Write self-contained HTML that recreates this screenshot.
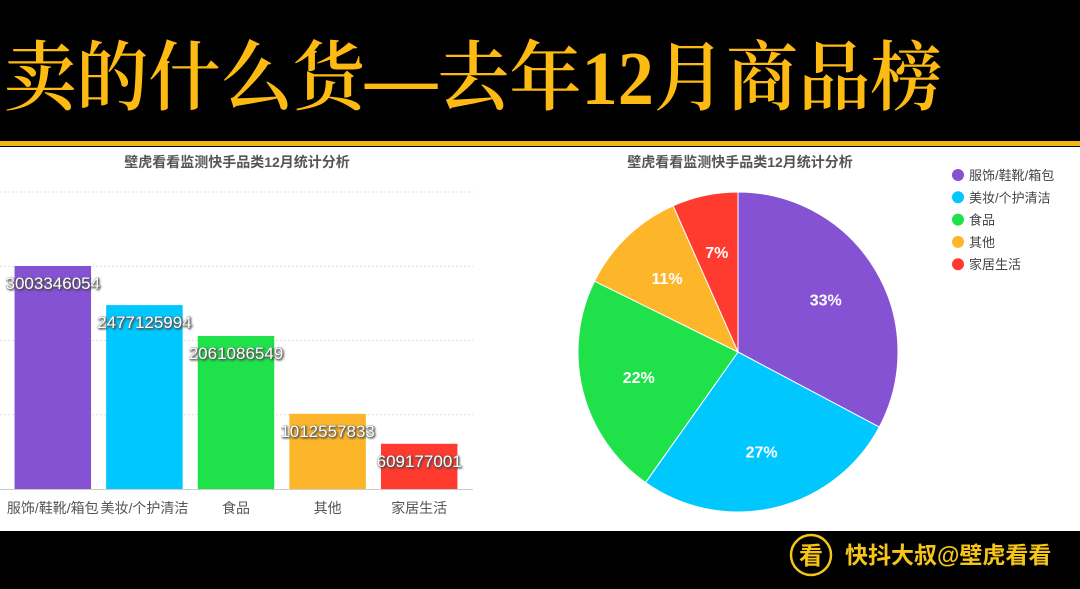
<!DOCTYPE html>
<html><head><meta charset="utf-8">
<style>
body{margin:0;width:1080px;height:584px;background:#000;overflow:hidden;font-family:"Liberation Sans","Noto Sans CJK SC",sans-serif;}
#hdr{position:absolute;left:0;top:0;width:1080px;height:141px;background:#000;}
#title{position:absolute;left:4px;top:29px;font-family:"Liberation Serif","Noto Serif CJK SC",serif;font-size:76px;line-height:100px;color:#FDBA12;white-space:nowrap;font-weight:600;transform:scaleX(0.95);transform-origin:left;}
#bar{position:absolute;left:0;top:141px;width:1080px;height:5px;background:#F5B614;}
#main{position:absolute;left:0;top:147px;width:1080px;height:384px;background:#fff;}
#foot{position:absolute;left:0;top:531px;width:1080px;height:53px;background:#000;}
svg text{font-family:"Liberation Sans","Noto Sans CJK SC",sans-serif;}
</style></head><body>
<div id="hdr"><div id="title">卖的什么货—去年12月商品榜</div></div>
<div id="bar"></div>
<div id="main"></div>
<div id="foot">
<svg width="1080" height="53">
<circle cx="811" cy="24" r="20" fill="none" stroke="#F5C518" stroke-width="2.5"/>
<text x="811" y="33" text-anchor="middle" font-size="24" font-weight="bold" fill="#F5C518">看</text>
<text x="845" y="32" font-size="23" font-weight="bold" fill="#F5C518">快抖大叔@壁虎看看</text>
</svg></div>
<svg id="chart" width="1080" height="584" style="position:absolute;left:0;top:0"></svg>
<script>
const categories=["服饰/鞋靴/箱包","美妆/个护清洁","食品","其他","家居生活"];
const values=[3003346054,2477125994,2061086549,1012557833,609177001];
const colors=["#8452D3","#00C8FF","#1FE24A","#FDB52A","#FF3B30"];
const yTicks=[0,1e9,2e9,3e9,4e9];
const chartTitle="壁虎看看监测快手品类12月统计分析";
const NS="http://www.w3.org/2000/svg";
const svg=document.getElementById('chart');
function mk(t,a,txt){const e=document.createElementNS(NS,t);for(const k in a)e.setAttribute(k,a[k]);if(txt!==undefined)e.textContent=txt;svg.appendChild(e);return e;}
const y0=489,yTop=192,yMax=4e9;
const y=v=>y0-(v/yMax)*(y0-yTop);
const xStart=7,step=91.6,bw=76.5;
const xc=i=>xStart+step*(i+0.5);
let t=mk('text',{x:237,y:167,'text-anchor':'middle','font-size':14,'font-weight':'bold',fill:'#555'},chartTitle);

yTicks.slice(1).forEach(v=>{const g=mk('line',{x1:0,x2:473,y1:y(v),y2:y(v),stroke:'#ddd','stroke-dasharray':'2,2'});
});
const ax=mk('line',{x1:0,x2:473,y1:y0+0.5,y2:y0+0.5,stroke:'#ccc'});

values.forEach((v,i)=>{
 const r=mk('rect',{x:xc(i)-bw/2,y:y(v),width:bw,height:y0-y(v),fill:colors[i]});
 
 const l=mk('text',{x:xc(i),y:y(v)+23,'text-anchor':'middle','font-size':17,fill:'#fff',stroke:'#777','stroke-width':0.6,style:'paint-order:stroke;text-shadow:1px 1px 2px #444'},String(v));
 
 const c=mk('text',{x:xc(i),y:513,'text-anchor':'middle','font-size':14,fill:'#555'},categories[i]);
 
});
const cx=738,cy=352,R=160;
t=mk('text',{x:740,y:167,'text-anchor':'middle','font-size':14,'font-weight':'bold',fill:'#555'},chartTitle);

const total=values.reduce((a,b)=>a+b,0);
let a0=-Math.PI/2;
values.forEach((v,i)=>{
 const a1=a0+v/total*2*Math.PI;
 const p=(a)=>[cx+R*Math.cos(a),cy+R*Math.sin(a)];
 const [x1,y1]=p(a0),[x2,y2]=p(a1);
 const s=mk('path',{d:`M${cx},${cy}L${x1},${y1}A${R},${R} 0 ${a1-a0>Math.PI?1:0} 1 ${x2},${y2}Z`,fill:colors[i],stroke:'#fff','stroke-width':1});
 
 const am=(a0+a1)/2;
 const pl=mk('text',{x:cx+R*0.64*Math.cos(am),y:cy+R*0.64*Math.sin(am)+6,'text-anchor':'middle','font-size':16,'font-weight':'bold',fill:'#fff'},Math.round(v/total*100)+'%');
 
 a0=a1;
 const ly=175+i*22.3;
 const d=mk('circle',{cx:958,cy:ly,r:6,fill:colors[i]});
 
 const lt=mk('text',{x:969,y:ly+5,'font-size':13,fill:'#444'},categories[i]);
 
});
</script>
</body></html>
